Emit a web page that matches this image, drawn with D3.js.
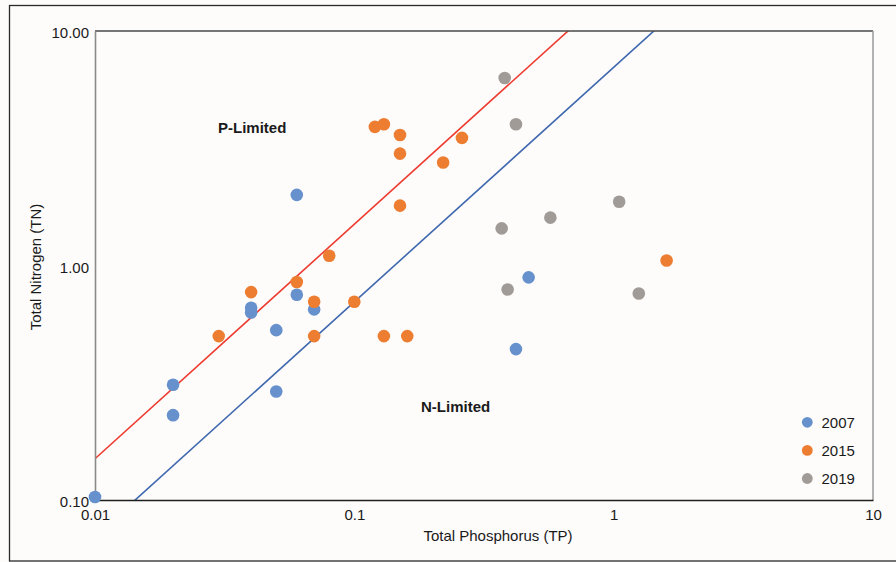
<!DOCTYPE html>
<html>
<head>
<meta charset="utf-8">
<script src="https://cdn.jsdelivr.net/npm/d3@7"></script>
<style>
  html, body { margin: 0; padding: 0; background: #fdfcfb; }
  svg { display: block; font-family: "Liberation Sans", Arial, sans-serif; }
</style>
</head>
<body>
<svg id="chart" width="896" height="562"></svg>
<script>
// Total phosphorus (TP) and total nitrogen (TN) by sampling year
const years = ["2007", "2015", "2019"];
const colors = ["#6691cc", "#ed7d31", "#a09b97"];

const tp2007 = [0.01, 0.02, 0.02, 0.04, 0.04, 0.05, 0.05, 0.06, 0.06, 0.07, 0.47, 0.42];
const tn2007 = [0.103, 0.31, 0.23, 0.66, 0.63, 0.53, 0.29, 2.0, 0.75, 0.65, 0.89, 0.44];

const tp2015 = [0.03, 0.04, 0.06, 0.07, 0.07, 0.08, 0.1, 0.13, 0.16, 1.6, 0.15, 0.12, 0.13, 0.15, 0.15, 0.22, 0.26];
const tn2015 = [0.50, 0.77, 0.85, 0.70, 0.50, 1.10, 0.70, 0.50, 0.50, 1.05, 1.80, 3.9, 4.0, 3.6, 3.0, 2.75, 3.5];

const tp2019 = [0.38, 0.42, 0.37, 0.57, 1.05, 0.39, 1.25];
const tn2019 = [6.3, 4.0, 1.44, 1.6, 1.87, 0.79, 0.76];

// TN:TP ratio boundaries separating P-limited and N-limited conditions
const ratioValues = [15, 7];
const ratioColors = ["#ee3b2f", "#3f68ae"];

const xTicks = [0.01, 0.1, 1, 10];
const xTickLabels = ["0.01", "0.1", "1", "10"];
const yTicks = [0.1, 1, 10];
const yTickLabels = ["0.10", "1.00", "10.00"];

const series = [
  { name: years[0], color: colors[0], tp: tp2007, tn: tn2007 },
  { name: years[1], color: colors[1], tp: tp2015, tn: tn2015 },
  { name: years[2], color: colors[2], tp: tp2019, tn: tn2019 }
];

const svg = d3.select("#chart");
const W = 896, H = 562;
const plot = { left: 95, top: 31, right: 873, bottom: 500 };

// Outer frame
svg.append("rect")
  .attr("x", 9.5).attr("y", 5.5)
  .attr("width", W + 10).attr("height", 555.5)
  .attr("fill", "#fdfcfb").attr("stroke", "#2a2a2a").attr("stroke-width", 1.3);

const x = d3.scaleLog().domain([0.01, 10]).range([plot.left, plot.right]);
const y = d3.scaleLog().domain([0.1, 10]).range([plot.bottom, plot.top]);

svg.append("defs").append("clipPath").attr("id", "plotClip")
  .append("rect")
  .attr("x", plot.left).attr("y", plot.top)
  .attr("width", plot.right - plot.left).attr("height", plot.bottom - plot.top);

// Ratio lines
const lineGen = d3.line().x(d => x(d[0])).y(d => y(d[1]));
const lineGroup = svg.append("g").attr("clip-path", "url(#plotClip)");
ratioValues.forEach((r, i) => {
  const pts = x.domain().map(tp => [tp, tp * r]);
  lineGroup.append("path")
    .attr("d", lineGen(pts))
    .attr("fill", "none")
    .attr("stroke", ratioColors[i])
    .attr("stroke-width", 1.6);
});

// Plot border lines
svg.append("line").attr("x1", plot.left).attr("x2", plot.right)
  .attr("y1", plot.top).attr("y2", plot.top)
  .attr("stroke", "#4a4a4a").attr("stroke-width", 1.5);
svg.append("line").attr("x1", plot.right).attr("x2", plot.right)
  .attr("y1", plot.top).attr("y2", plot.bottom)
  .attr("stroke", "#9a9a9a").attr("stroke-width", 1.5);

// Axes
const xAxis = d3.axisBottom(x)
  .tickValues(xTicks)
  .tickFormat((d, i) => xTickLabels[i])
  .tickSize(0).tickPadding(9);
const gx = svg.append("g").attr("transform", `translate(0,${plot.bottom})`).call(xAxis);
gx.select(".domain").attr("stroke", "#1e1e1e").attr("stroke-width", 1.6);
gx.selectAll("text").attr("font-size", 15).attr("fill", "#1a1a1a")
  .attr("font-family", "Liberation Sans, Arial, sans-serif");

const yAxis = d3.axisLeft(y)
  .tickValues(yTicks)
  .tickFormat((d, i) => yTickLabels[i])
  .tickSize(0).tickPadding(6);
const gy = svg.append("g").attr("transform", `translate(${plot.left},0)`).call(yAxis);
gy.select(".domain").attr("stroke", "#8a8a8a").attr("stroke-width", 1.6);
gy.selectAll("text").attr("font-size", 15).attr("fill", "#1a1a1a").attr("dy", "0.45em")
  .attr("font-family", "Liberation Sans, Arial, sans-serif");

// Points
series.forEach(s => {
  svg.append("g").selectAll("circle")
    .data(s.tp.map((tp, i) => ({ tp, tn: s.tn[i] })))
    .join("circle")
    .attr("cx", d => x(d.tp))
    .attr("cy", d => y(d.tn))
    .attr("r", 6.3)
    .attr("fill", s.color);
});

// Region labels
svg.append("text").attr("x", 218).attr("y", 133)
  .attr("font-size", 15).attr("font-weight", "bold").attr("fill", "#1a1a1a")
  .text("P-Limited");
svg.append("text").attr("x", 421).attr("y", 412)
  .attr("font-size", 15).attr("font-weight", "bold").attr("fill", "#1a1a1a")
  .text("N-Limited");

// Axis titles
svg.append("text").attr("x", 498).attr("y", 541)
  .attr("text-anchor", "middle").attr("font-size", 15).attr("fill", "#1a1a1a")
  .text("Total Phosphorus (TP)");
svg.append("text")
  .attr("transform", "translate(41,267) rotate(-90)")
  .attr("text-anchor", "middle").attr("font-size", 15).attr("fill", "#1a1a1a")
  .text("Total Nitrogen (TN)");

// Legend
const legend = svg.append("g");
series.forEach((s, i) => {
  const cy = 422.3 + i * 28.1;
  legend.append("circle").attr("cx", 807.3).attr("cy", cy).attr("r", 5.4).attr("fill", s.color);
  legend.append("text").attr("x", 821.5).attr("y", cy).attr("dy", "0.36em")
    .attr("font-size", 15).attr("fill", "#1a1a1a").text(s.name);
});
</script>
</body>
</html>
